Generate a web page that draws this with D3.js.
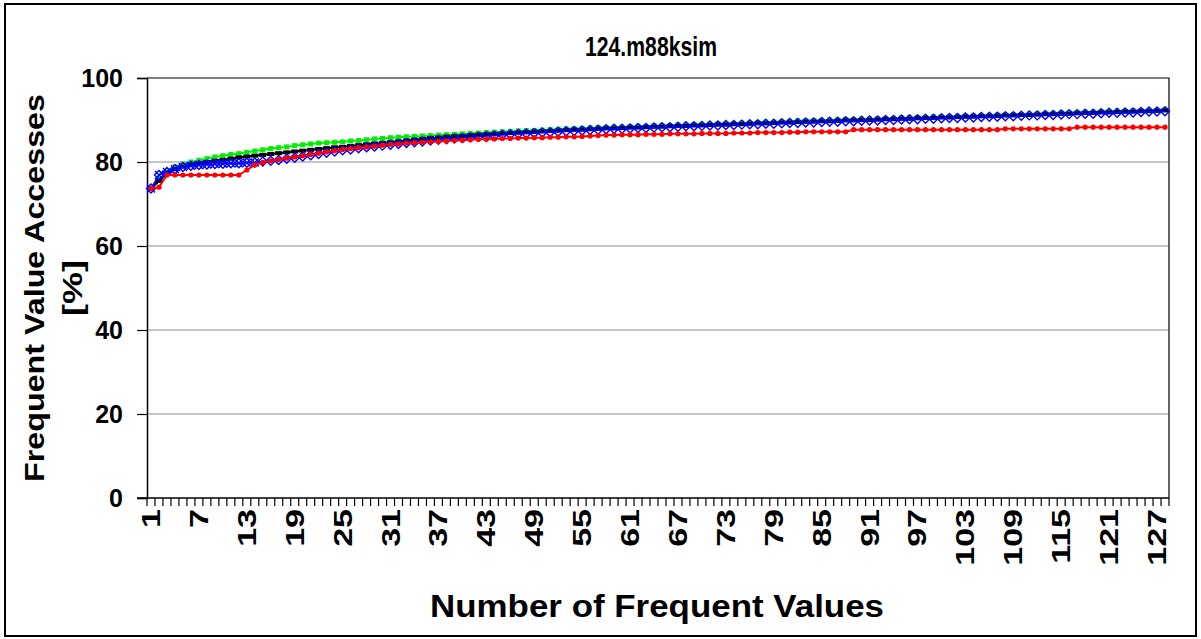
<!DOCTYPE html>
<html>
<head>
<meta charset="utf-8">
<script src="https://cdn.jsdelivr.net/npm/d3@7"></script>
<style>
  body { margin: 0; background: #fff; }
  svg text { font-family: "Liberation Sans", Arial, sans-serif; font-weight: bold; fill: #000; }
</style>
</head>
<body>
<svg id="chart" width="1201" height="639"></svg>
<script>
// Number of frequent values tracked (x categories)
const categories = d3.range(1, 129);
const xTickLabels = [1, 7, 13, 19, 25, 31, 37, 43, 49, 55, 61, 67, 73, 79, 85, 91, 97, 103, 109, 115, 121, 127];
const yTickValues = [0, 20, 40, 60, 80, 100];

// Frequent value accesses [%] per configuration
const redSeries = [
  73.7, 74.0, 76.9, 76.9, 76.9, 76.9, 76.9, 76.9, 76.9, 76.9,
  76.9, 76.9, 78.1, 79.3, 79.9, 80.3, 80.6, 80.9, 81.2, 81.5,
  81.8, 82.1, 82.4, 82.7, 83.0, 83.2, 83.4, 83.6, 83.8, 84.0,
  84.2, 84.3, 84.5, 84.6, 84.7, 84.8, 84.9, 85.0, 85.1, 85.2,
  85.3, 85.4, 85.4, 85.5, 85.6, 85.6, 85.7, 85.7, 85.8, 85.8,
  85.9, 85.9, 86.0, 86.0, 86.1, 86.2, 86.3, 86.4, 86.4, 86.5,
  86.5, 86.5, 86.6, 86.6, 86.6, 86.7, 86.7, 86.7, 86.7, 86.8,
  86.8, 86.8, 86.8, 86.9, 86.9, 86.9, 87.0, 87.0, 87.0, 87.0,
  87.1, 87.1, 87.2, 87.2, 87.2, 87.2, 87.2, 87.2, 87.7, 87.7,
  87.7, 87.7, 87.7, 87.7, 87.7, 87.7, 87.7, 87.7, 87.7, 87.7,
  87.7, 87.7, 87.7, 87.7, 87.7, 87.7, 87.7, 87.9, 87.9, 87.9,
  87.9, 87.9, 87.9, 87.9, 87.9, 87.9, 88.3, 88.3, 88.3, 88.3,
  88.3, 88.3, 88.3, 88.3, 88.3, 88.3, 88.3, 88.3
];
const greenSeries = [
  73.7, 75.9, 77.7, 78.9, 79.5, 80.0, 80.4, 80.8, 81.2, 81.5,
  81.8, 82.0, 82.3, 82.6, 82.9, 83.2, 83.4, 83.6, 83.9, 84.1,
  84.3, 84.5, 84.6, 84.7, 84.8, 85.0, 85.1, 85.3, 85.5, 85.6,
  85.8, 85.9, 86.0, 86.1, 86.2, 86.3, 86.4, 86.5, 86.6, 86.7,
  86.8, 86.9, 87.0, 87.1, 87.2, 87.3, 87.4, 87.5, 87.5, 87.6,
  87.7, 87.8, 87.9, 87.9, 88.0, 88.1, 88.2, 88.2, 88.3, 88.3,
  88.4, 88.5, 88.5, 88.6, 88.7, 88.7, 88.8, 88.8, 88.9, 89.0,
  89.0, 89.1, 89.1, 89.2, 89.3, 89.3, 89.4, 89.5, 89.5, 89.6,
  89.7, 89.8, 89.8, 89.9, 89.9, 90.0, 90.0, 90.1, 90.1, 90.2,
  90.2, 90.3, 90.3, 90.4, 90.5, 90.5, 90.6, 90.6, 90.7, 90.8,
  90.8, 90.9, 90.9, 91.0, 91.0, 91.1, 91.2, 91.2, 91.3, 91.3,
  91.4, 91.5, 91.5, 91.6, 91.7, 91.7, 91.8, 91.9, 91.9, 92.0,
  92.0, 92.1, 92.1, 92.2, 92.2, 92.3, 92.3, 92.4
];
const blackSeries = [
  73.7, 75.5, 77.3, 78.3, 78.9, 79.4, 79.7, 80.0, 80.3, 80.5,
  80.8, 81.1, 81.3, 81.5, 81.7, 81.9, 82.1, 82.3, 82.5, 82.7,
  82.9, 83.1, 83.3, 83.5, 83.6, 83.8, 84.0, 84.2, 84.4, 84.5,
  84.7, 84.9, 85.1, 85.3, 85.5, 85.7, 85.8, 86.0, 86.1, 86.2,
  86.4, 86.5, 86.6, 86.7, 86.8, 86.9, 87.0, 87.1, 87.2, 87.3,
  87.4, 87.5, 87.6, 87.7, 87.7, 87.8, 87.9, 88.0, 88.0, 88.1,
  88.2, 88.2, 88.3, 88.4, 88.4, 88.5, 88.6, 88.6, 88.7, 88.7,
  88.8, 88.9, 88.9, 89.0, 89.0, 89.1, 89.2, 89.2, 89.3, 89.4,
  89.4, 89.5, 89.6, 89.6, 89.7, 89.7, 89.8, 89.9, 89.9, 90.0,
  90.0, 90.1, 90.2, 90.2, 90.3, 90.3, 90.4, 90.5, 90.5, 90.6,
  90.6, 90.7, 90.8, 90.8, 90.9, 90.9, 91.0, 91.1, 91.1, 91.2,
  91.2, 91.3, 91.4, 91.4, 91.5, 91.5, 91.6, 91.7, 91.7, 91.8,
  91.8, 91.9, 92.0, 92.0, 92.1, 92.1, 92.2, 92.3
];
const blueSeries = [
  73.7, 76.9, 77.6, 78.3, 78.8, 79.1, 79.3, 79.4, 79.5, 79.6,
  79.7, 79.7, 79.8, 79.9, 80.1, 80.3, 80.5, 80.8, 81.0, 81.3,
  81.6, 81.9, 82.2, 82.5, 82.8, 83.0, 83.3, 83.5, 83.7, 83.9,
  84.1, 84.3, 84.5, 84.7, 84.9, 85.1, 85.3, 85.4, 85.6, 85.7,
  85.9, 86.0, 86.2, 86.3, 86.5, 86.6, 86.7, 86.8, 86.9, 87.0,
  87.1, 87.2, 87.3, 87.4, 87.5, 87.6, 87.7, 87.8, 87.9, 87.9,
  88.0, 88.1, 88.1, 88.2, 88.3, 88.3, 88.4, 88.5, 88.5, 88.6,
  88.7, 88.7, 88.8, 88.8, 88.9, 89.0, 89.0, 89.1, 89.1, 89.2,
  89.3, 89.3, 89.4, 89.4, 89.5, 89.6, 89.6, 89.7, 89.7, 89.8,
  89.9, 89.9, 90.0, 90.0, 90.1, 90.2, 90.2, 90.3, 90.3, 90.4,
  90.5, 90.5, 90.6, 90.6, 90.7, 90.8, 90.8, 90.9, 90.9, 91.0,
  91.1, 91.1, 91.2, 91.2, 91.3, 91.4, 91.4, 91.5, 91.5, 91.6,
  91.7, 91.7, 91.8, 91.8, 91.9, 92.0, 92.0, 92.1
];

const titleText = "124.m88ksim";
const xTitle = "Number of Frequent Values";
const yTitleLines = ["Frequent Value Accesses", "[%]"];

const svg = d3.select("#chart");
const W = 1201, H = 639;
const plot = { left: 147, right: 1169, top: 78, bottom: 498 };

// Outer chart frame
svg.append("rect")
  .attr("x", 5).attr("y", 4).attr("width", W - 10).attr("height", H - 7)
  .attr("fill", "#fff").attr("stroke", "#000").attr("stroke-width", 2);

const x = d3.scaleBand().domain(categories).range([plot.left, plot.right]).padding(0);
const y = d3.scaleLinear().domain([0, 100]).range([plot.bottom, plot.top]);
const cx = d => x(d) + x.bandwidth() / 2;

// Horizontal gridlines
svg.append("g").selectAll("line")
  .data(yTickValues.filter(v => v > 0 && v < 100))
  .join("line")
  .attr("x1", plot.left).attr("x2", plot.right)
  .attr("y1", d => y(d)).attr("y2", d => y(d))
  .attr("stroke", "#8c8c8c").attr("stroke-width", 1);

// Plot area border (top and right)
svg.append("path")
  .attr("d", `M${plot.left},${y(100)}H${plot.right}V${plot.bottom}`)
  .attr("fill", "none").attr("stroke", "#000").attr("stroke-width", 1.2);

// Y axis
const yAxis = svg.append("g")
  .attr("transform", `translate(${plot.left},0)`)
  .call(d3.axisLeft(y).tickValues(yTickValues).tickSize(10).tickPadding(14));
yAxis.select(".domain").attr("stroke", "#000").attr("stroke-width", 1.5);
yAxis.selectAll(".tick line").attr("stroke", "#000").attr("stroke-width", 1.2);
yAxis.selectAll(".tick text")
  .attr("font-size", 25).attr("font-family", null).attr("font-weight", "bold");

// X axis: baseline, ticks on category boundaries, rotated labels
const xAxis = svg.append("g");
xAxis.append("line")
  .attr("x1", plot.left - 10).attr("x2", plot.right)
  .attr("y1", plot.bottom).attr("y2", plot.bottom)
  .attr("stroke", "#000").attr("stroke-width", 1.5);
const boundaries = categories.map(c => x(c)).concat([x.range()[1]]);
xAxis.selectAll("line.tk")
  .data(boundaries)
  .join("line").attr("class", "tk")
  .attr("x1", d => d).attr("x2", d => d)
  .attr("y1", plot.bottom).attr("y2", plot.bottom + 8)
  .attr("stroke", "#000").attr("stroke-width", 1.2);
xAxis.selectAll("text")
  .data(xTickLabels)
  .join("text")
  .attr("transform", d => `translate(${cx(d)},${plot.bottom + 11}) rotate(-90) scale(1.36,1)`)
  .attr("text-anchor", "end")
  .attr("dy", "0.36em")
  .attr("font-size", 25)
  .text(d => d);

// Series lines and markers
const line = d3.line().x((d, i) => cx(categories[i])).y(d => y(d));
const pts = arr => arr.map((v, i) => ({ c: categories[i], v }));

function drawLine(arr, color, width) {
  svg.append("path").datum(arr)
    .attr("d", line).attr("fill", "none")
    .attr("stroke", color).attr("stroke-width", width)
    .attr("stroke-linejoin", "round");
}

// green: squares
drawLine(greenSeries, "#00ee00", 2);
svg.append("g").selectAll("rect").data(pts(greenSeries)).join("rect")
  .attr("x", d => cx(d.c) - 2.5).attr("y", d => y(d.v) - 2.5)
  .attr("width", 5).attr("height", 5).attr("fill", "#00ee00");

// black: dashes
drawLine(blackSeries, "#000", 2);
svg.append("g").selectAll("rect").data(pts(blackSeries)).join("rect")
  .attr("x", d => cx(d.c) - 3.5).attr("y", d => y(d.v) - 2)
  .attr("width", 7).attr("height", 4).attr("fill", "#000");

// blue: hollow diamonds and crosses
drawLine(blueSeries, "#0000ff", 1.5);
svg.append("g").selectAll("path").data(pts(blueSeries)).join("path")
  .attr("d", d => { const px = cx(d.c), py = y(d.v), r = 4.5;
    return `M${px},${py - r}L${px + r},${py}L${px},${py + r}L${px - r},${py}Z`; })
  .attr("fill", "none").attr("stroke", "#0000ff").attr("stroke-width", 1.4);
svg.append("g").selectAll("path").data(pts(blueSeries).slice(0, 14)).join("path")
  .attr("d", d => { const px = cx(d.c), py = y(d.v), r = 4;
    return `M${px - r},${py - r}L${px + r},${py + r}M${px - r},${py + r}L${px + r},${py - r}`; })
  .attr("fill", "none").attr("stroke", "#0000ff").attr("stroke-width", 1.4);

// red: small dots
drawLine(redSeries, "#ff0000", 2);
svg.append("g").selectAll("circle").data(pts(redSeries)).join("circle")
  .attr("cx", d => cx(d.c)).attr("cy", d => y(d.v)).attr("r", 2.6)
  .attr("fill", "#ff0000");

// Titles
svg.append("text")
  .attr("x", 651).attr("y", 56)
  .attr("text-anchor", "middle").attr("font-size", 28)
  .attr("textLength", 132).attr("lengthAdjust", "spacingAndGlyphs")
  .text(titleText);

svg.append("text")
  .attr("x", 657).attr("y", 617)
  .attr("text-anchor", "middle").attr("font-size", 32)
  .attr("textLength", 454).attr("lengthAdjust", "spacingAndGlyphs")
  .text(xTitle);

const yt = svg.append("text")
  .attr("transform", `translate(0,288) rotate(-90)`)
  .attr("text-anchor", "middle").attr("font-size", 28);
yt.append("tspan").attr("x", 0).attr("y", 44)
  .attr("textLength", 388).attr("lengthAdjust", "spacingAndGlyphs")
  .text(yTitleLines[0]);
yt.append("tspan").attr("x", 0).attr("y", 82)
  .attr("textLength", 56).attr("lengthAdjust", "spacingAndGlyphs")
  .text(yTitleLines[1]);
</script>
</body>
</html>
